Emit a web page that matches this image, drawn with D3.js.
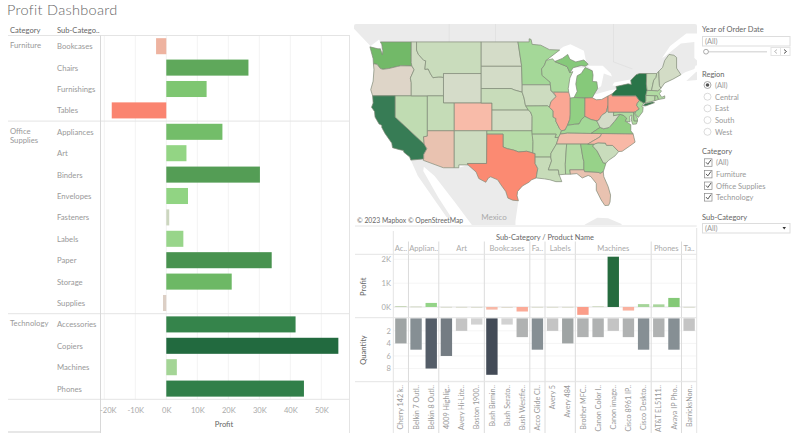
<!DOCTYPE html>
<html>
<head>
<meta charset="utf-8">
<script src="https://cdn.jsdelivr.net/npm/d3@7"></script>
<style>
html,body{margin:0;padding:0;background:#fff;overflow:hidden}
svg{display:block}
text{font-family:Lato,"Open Sans",sans-serif}
</style>
</head>
<body>
<div id="chart"></div>
<script>
// left bars: profit by sub-category
const subCats = ["Bookcases","Chairs","Furnishings","Tables","Appliances","Art","Binders","Envelopes","Fasteners","Labels","Paper","Storage","Supplies","Accessories","Copiers","Machines","Phones"]
const subProfit = [-3300,26500,13000,-17600,18100,6500,30200,7000,950,5500,34000,21100,-1070,41700,55500,3400,44400]
const groupNames = [["Furniture"],["Office","Supplies"],["Technology"]]
const groupSize = [4,9,4]
const xTicks = [-20000,-10000,0,10000,20000,30000,40000,50000]

// bottom chart: products
const facetNames = ["Ac..","Applian..","Art","Bookcases","Fa..","Labels","Machines","Phones","Ta.."]
const facetSize = [1,2,3,3,1,2,5,2,1]
const products = ["Cherry 142 k..","Belkin 7 Outl..","Belkin 8 Outl..","4009 Highlig..","Avery Hi-Lite..","Boston 1900..","Bush Birmin..","Bush Serato..","Bush Westfie..","Acco Glide Cl..","Avery 5","Avery 484","Brother MFC..","Canon Color I..","Canon image..","Cisco 8961 IP..","Cisco Deskto..","AT&T EL5111..","Avaya IP Pho..","BarricksNon.."]
const prodProfit = [40,20,170,6,4,3,-110,-6,-190,5,5,5,-330,30,2110,-150,120,110,380,6]
const prodQty = [4,5,8,6,2,1,9,1,3,5,2,4,3,3,2,3,5,3,5,2]

// map: profit per state (estimated from the colours)
const stateNames = ["WA","OR","CA","NV","ID","MT","WY","UT","CO","AZ","NM","ND","SD","NE","KS","OK","TX","MN","IA","MO","AR","LA","WI","IL","MI","MI2","IN","OH","KY","TN","MS","AL","GA","FL","SC","NC","VA","WV","MD","DE","PA","NJ","NY","NY2","CT","RI","MA","VT","NH","ME"]
const stateProfit = [33000,-1200,62000,3300,800,1800,100,2500,-6500,-3400,1200,200,400,2000,800,4900,-25700,10800,1200,6400,4000,2200,8400,-12600,24000,24000,18400,-17000,11200,-5300,3200,5800,16200,-3400,1800,-7500,18600,200,7000,10000,-15500,9800,74000,74000,3500,7300,6800,2200,1700,450]
const stateOutlines = [
 [[-124.7,48.4],[-123.2,48.15],[-122.75,48.15],[-122.4,47.4],[-122.3,47.9],[-122.5,48.7],[-122.75,49],[-117.03,49],[-117.04,46.42],[-116.92,45.99],[-118.98,46],[-119.6,45.92],[-121.2,45.65],[-122.3,45.55],[-122.75,45.65],[-123.4,46.2],[-124.05,46.27],[-124.1,46.9]],
 [[-124.05,46.27],[-123.4,46.2],[-122.75,45.65],[-122.3,45.55],[-121.2,45.65],[-119.6,45.92],[-118.98,46],[-116.92,45.99],[-116.5,45.5],[-117.2,44.4],[-117.03,43.8],[-117.03,42],[-124.2,42],[-124.55,42.84],[-124.1,44],[-123.95,45.5]],
 [[-124.2,42],[-120,42],[-120,39],[-114.63,35],[-114.13,34.3],[-114.72,33.4],[-114.72,32.72],[-117.12,32.53],[-117.3,33],[-118.4,33.75],[-118.5,34.03],[-119.2,34.15],[-120.5,34.45],[-120.65,35.15],[-121.9,36.6],[-122.5,37.5],[-122.5,37.8],[-123,38],[-123.75,39],[-123.85,39.8],[-124.4,40.4],[-124.1,41]],
 [[-120,42],[-114.04,42],[-114.04,36.2],[-114.75,36.1],[-114.63,35],[-120,39]],
 [[-117.03,49],[-116.05,49],[-116.05,48],[-115.7,47.45],[-114.7,46.7],[-114.35,46.65],[-114.5,45.55],[-113.9,45.6],[-113.45,44.95],[-113,44.45],[-112,44.55],[-111.5,44.55],[-111.05,44.48],[-111.05,42],[-114.04,42],[-117.03,42],[-117.03,43.8],[-117.2,44.4],[-116.5,45.5],[-116.92,45.99],[-117.04,46.42]],
 [[-116.05,49],[-104.05,49],[-104.05,45],[-111.05,45],[-111.05,44.48],[-111.5,44.55],[-112,44.55],[-113,44.45],[-113.45,44.95],[-113.9,45.6],[-114.5,45.55],[-114.35,46.65],[-114.7,46.7],[-115.7,47.45],[-116.05,48]],
 [[-111.05,45],[-104.05,45],[-104.05,41],[-111.05,41]],
 [[-114.04,42],[-111.05,42],[-111.05,41],[-109.05,41],[-109.05,37],[-114.04,37]],
 [[-109.05,41],[-102.05,41],[-102.05,37],[-109.05,37]],
 [[-114.04,37],[-109.05,37],[-109.05,31.33],[-111.07,31.33],[-114.8,32.5],[-114.72,32.72],[-114.72,33.4],[-114.13,34.3],[-114.63,35],[-114.75,36.1],[-114.04,36.2]],
 [[-109.05,37],[-103,37],[-103.05,32],[-106.6,32],[-106.5,31.78],[-108.2,31.78],[-108.2,31.33],[-109.05,31.33]],
 [[-104.05,49],[-97.23,49],[-96.55,46],[-96.56,45.94],[-104.05,45.94]],
 [[-104.05,45.94],[-96.56,45.94],[-96.45,43.5],[-96.45,42.5],[-97.9,42.8],[-98.5,43],[-104.05,43]],
 [[-104.05,43],[-98.5,43],[-97.9,42.8],[-96.45,42.5],[-96.1,41.7],[-95.85,40.7],[-95.31,40],[-102.05,40],[-102.05,41],[-104.05,41]],
 [[-102.05,40],[-95.31,40],[-94.9,39.75],[-94.6,39.1],[-94.62,37],[-102.05,37]],
 [[-103,37],[-94.62,37],[-94.43,35.4],[-94.48,33.64],[-95.6,33.9],[-97.1,33.8],[-98.1,34.1],[-99.2,34.3],[-100,34.56],[-100,36.5],[-103,36.5]],
 [[-103,36.5],[-100,36.5],[-100,34.56],[-99.2,34.3],[-98.1,34.1],[-97.1,33.8],[-95.6,33.9],[-94.48,33.64],[-94.04,33.55],[-94.04,32],[-93.55,31.2],[-93.85,29.7],[-94.7,29.4],[-95.2,29],[-96.4,28.4],[-97.3,27.5],[-97.4,26.8],[-97.15,25.96],[-98.2,26.05],[-99.1,26.4],[-99.5,27.5],[-100.4,28.6],[-101,29.4],[-102.3,29.88],[-102.7,29.7],[-103.2,29],[-104.5,29.6],[-105,30.65],[-106.5,31.78],[-106.6,32],[-103.05,32]],
 [[-97.23,49],[-95.15,49],[-95.15,49.38],[-94.8,49.3],[-94.6,48.7],[-93,48.6],[-91.4,48.05],[-89.5,48],[-92,46.7],[-92.3,46.1],[-92.85,45.6],[-92.75,44.75],[-91.25,43.85],[-91.22,43.5],[-96.45,43.5],[-96.56,45.94],[-96.55,46]],
 [[-96.45,43.5],[-91.22,43.5],[-91.1,42.7],[-90.15,41.9],[-91.1,41.2],[-91.4,40.4],[-91.73,40.61],[-95.77,40.58],[-95.85,40.7],[-96.1,41.7],[-96.45,42.5]],
 [[-95.77,40.58],[-91.73,40.61],[-91.4,40.4],[-90.7,39.9],[-90.7,39],[-90.2,38.8],[-90.2,38.4],[-89.5,37.3],[-89.15,37],[-89.4,36.5],[-89.7,36],[-90.37,36],[-90.15,36.5],[-94.62,36.5],[-94.62,37],[-94.6,39.1],[-94.9,39.75],[-95.31,40]],
 [[-94.62,36.5],[-90.15,36.5],[-90.37,36],[-89.7,36],[-90.1,35],[-91.1,33.6],[-91.15,33],[-94.04,33],[-94.04,33.55],[-94.48,33.64],[-94.43,35.4]],
 [[-94.04,33],[-91.15,33],[-91,32.4],[-91.6,31],[-89.75,31],[-89.6,30.2],[-89.4,29.8],[-89.1,29.1],[-90.2,29.1],[-91.3,29.4],[-92.3,29.55],[-93.85,29.7],[-93.55,31.2],[-94.04,32]],
 [[-92,46.7],[-90.8,46.9],[-90.4,46.55],[-88.1,45.9],[-87.6,45.1],[-87.05,45.25],[-87.6,44.4],[-87.9,43],[-87.8,42.49],[-90.64,42.5],[-91.1,42.7],[-91.22,43.5],[-91.25,43.85],[-92.75,44.75],[-92.85,45.6],[-92.3,46.1]],
 [[-90.64,42.5],[-87.8,42.49],[-87.53,41.7],[-87.53,39.35],[-87.6,38.7],[-88.05,37.8],[-88.5,37.1],[-89.15,37],[-89.5,37.3],[-90.2,38.4],[-90.2,38.8],[-90.7,39],[-90.7,39.9],[-91.4,40.4],[-91.1,41.2],[-90.15,41.9]],
 [[-86.82,41.76],[-84.8,41.7],[-83.45,41.73],[-83.1,42.2],[-82.45,43],[-82.6,43.9],[-83.4,43.95],[-83.3,44.8],[-83.45,45.35],[-84.75,45.78],[-85.5,45],[-86.25,44.7],[-86.5,43.6],[-86.25,42.6]],
 [[-90.4,46.55],[-88.1,45.9],[-87.6,45.1],[-87,45.75],[-85.5,46.05],[-84.75,45.95],[-84.2,46.2],[-85,46.75],[-86.5,46.5],[-87.6,46.85],[-88,47.45],[-89,46.95]],
 [[-87.53,41.7],[-86.82,41.76],[-84.8,41.7],[-84.82,39.1],[-85.4,38.7],[-85.9,38],[-86.8,37.95],[-88.05,37.8],[-87.6,38.7],[-87.53,39.35]],
 [[-84.8,41.7],[-83.45,41.73],[-82.7,41.45],[-81.7,41.5],[-80.52,41.98],[-80.52,40.64],[-80.85,39.7],[-81.7,39.25],[-82.2,38.6],[-82.6,38.45],[-83.7,38.65],[-84.82,39.1]],
 [[-89.4,36.5],[-89.15,37],[-88.5,37.1],[-88.05,37.8],[-86.8,37.95],[-85.9,38],[-85.4,38.7],[-84.82,39.1],[-83.7,38.65],[-82.6,38.45],[-82,37.5],[-83.68,36.6],[-88.07,36.65]],
 [[-90.1,35],[-89.7,36],[-89.4,36.5],[-88.07,36.65],[-83.68,36.6],[-81.68,36.59],[-82,36.1],[-84.3,35]],
 [[-90.1,35],[-88.2,35],[-88.45,31.9],[-88.4,30.3],[-89.6,30.2],[-89.75,31],[-91.6,31],[-91,32.4],[-91.15,33],[-91.1,33.6]],
 [[-88.2,35],[-85.6,35],[-85.18,32.87],[-85,32.3],[-85,31],[-87.6,31],[-87.5,30.3],[-88.4,30.3],[-88.45,31.9]],
 [[-85.6,35],[-84.3,35],[-83.1,35],[-83.35,34.7],[-82.55,33.95],[-81.4,32.1],[-80.9,32.05],[-81.4,30.7],[-82,30.4],[-82.2,30.57],[-84.87,30.7],[-85,31],[-85,32.3],[-85.18,32.87]],
 [[-87.6,31],[-85,31],[-84.87,30.7],[-82.2,30.57],[-82,30.4],[-81.4,30.7],[-81.3,29.9],[-80.5,28.3],[-80.05,26.9],[-80.15,25.75],[-80.4,25.2],[-81.1,25.15],[-81.8,26.1],[-82.7,27.7],[-82.7,28.8],[-83.7,29.9],[-84.2,30.1],[-85.3,29.7],[-86.3,30.4],[-87.5,30.3]],
 [[-83.35,34.7],[-83.1,35],[-82.4,35.2],[-81,35.15],[-80.8,34.82],[-79.67,34.8],[-78.55,33.86],[-79.2,33.2],[-80.4,32.5],[-80.9,32.05],[-81.4,32.1],[-82.55,33.95]],
 [[-84.3,35],[-82,36.1],[-81.68,36.59],[-75.87,36.55],[-75.5,35.3],[-76.5,34.7],[-77.9,33.9],[-78.55,33.86],[-79.67,34.8],[-80.8,34.82],[-81,35.15],[-82.4,35.2],[-83.1,35]],
 [[-83.68,36.6],[-82,37.5],[-81.3,37.3],[-80.3,37.5],[-79.3,38.4],[-78.35,39.4],[-77.75,39.3],[-77.05,38.85],[-77.3,38.4],[-76.3,37.9],[-76.3,37],[-75.87,36.55],[-81.68,36.59]],
 [[-82.6,38.45],[-82.2,38.6],[-81.7,39.25],[-80.85,39.7],[-80.52,40.64],[-80.52,39.72],[-79.48,39.72],[-79.48,39.2],[-78.35,39.4],[-79.3,38.4],[-80.3,37.5],[-81.3,37.3],[-82,37.5]],
 [[-79.48,39.72],[-75.79,39.72],[-75.7,38.46],[-75.05,38.45],[-75.25,38],[-75.95,37.95],[-76.2,38.6],[-76.1,39.3],[-76.5,39.1],[-76.45,38.3],[-77.3,38.4],[-77.05,38.85],[-77.75,39.3],[-78.35,39.4],[-79.48,39.2]],
 [[-75.79,39.72],[-75.4,39.8],[-75.55,39.45],[-75.05,38.8],[-75.05,38.45],[-75.7,38.46]],
 [[-80.52,41.98],[-79.76,42.27],[-79.76,42],[-75.35,42],[-74.7,41.36],[-75.1,40.95],[-75.2,40.65],[-74.72,40.15],[-75.4,39.8],[-75.79,39.72],[-80.52,39.72],[-80.52,40.64]],
 [[-74.7,41.36],[-73.9,41],[-74.25,40.5],[-74,40.4],[-74.1,39.75],[-74.9,38.95],[-75.5,39.5],[-75.4,39.8],[-74.72,40.15],[-75.2,40.65],[-75.1,40.95]],
 [[-79.76,42.27],[-78.9,42.9],[-79.05,43.27],[-76.8,43.63],[-76.2,43.55],[-76.3,44.1],[-75.3,44.85],[-74.7,45],[-73.35,45],[-73.4,43.6],[-73.27,42.75],[-73.5,42.05],[-73.5,41.3],[-73.65,41],[-73.9,41],[-74.7,41.36],[-75.35,42],[-79.76,42]],
 [[-74,40.6],[-73.7,40.9],[-72.3,41.15],[-71.9,41.05],[-73.5,40.6]],
 [[-73.5,42.05],[-71.8,42.02],[-71.85,41.32],[-73.65,41],[-73.5,41.3]],
 [[-71.8,42.02],[-71.38,42.02],[-71.15,41.5],[-71.85,41.32]],
 [[-73.5,42.05],[-73.27,42.75],[-71.3,42.7],[-70.9,42.88],[-70.6,42.65],[-71,42.3],[-70.55,41.8],[-70,42],[-70,41.65],[-71.15,41.5],[-71.38,42.02]],
 [[-73.35,45],[-71.5,45],[-71.6,44.5],[-72.05,44.1],[-72.45,42.73],[-73.27,42.75],[-73.4,43.6]],
 [[-71.5,45],[-71.1,45.3],[-70.98,43.4],[-70.7,43.05],[-70.9,42.88],[-71.3,42.7],[-72.45,42.73],[-72.05,44.1],[-71.6,44.5]],
 [[-71.1,45.3],[-70.4,45.8],[-70,46.7],[-69.2,47.45],[-68.3,47.35],[-67.8,47.07],[-67.8,45.7],[-67,44.85],[-68.5,44.25],[-70,43.75],[-70.7,43.05],[-70.98,43.4]]
]
// basemap land and water behind the states
const landShapes = [
 [[-128,52],[-60,52],[-60,47],[-64.3,46],[-64.5,45.6],[-66.1,45.2],[-67,44.85],[-67.8,45.5],[-70,45],[-74,44.5],[-76.3,43.5],[-79,42.5],[-83,41.5],[-84,45],[-90,46.5],[-95,48],[-122,48],[-124.6,48.5],[-128,50.8]],
 [[-66,44],[-64.2,45.2],[-63,45.5],[-63,44.2]],
 [[-117.12,32.53],[-114.72,32.72],[-114.8,32.5],[-111.07,31.33],[-108.2,31.33],[-106.5,31.78],[-105,30.65],[-104.5,29.6],[-103.2,29],[-102.3,29.88],[-101,29.4],[-99.5,27.5],[-99.1,26.4],[-97.15,25.96],[-97.7,22.5],[-97.7,20],[-106,20],[-105.5,21.5],[-109,25.8],[-112.7,30],[-114.7,31.5],[-114.8,30.8],[-112,26.5],[-109.5,23],[-110.5,23.2],[-115.8,30]],
 [[-84.9,21.9],[-82.5,23.1],[-80.5,23],[-78,22],[-78,21],[-82,21],[-84,21.7]]
]
const lakeShapes = [
 [[-92,46.8],[-88.8,48.4],[-87.5,48.7],[-85,47.9],[-84.6,46.6],[-86,46.4],[-89,46.6]],
 [[-87.8,42.3],[-86.8,41.6],[-86.2,42.6],[-86.2,44.7],[-84.8,45.75],[-87,45.8],[-87.9,44]],
 [[-84.5,46],[-81.5,46],[-80,45],[-79.8,44.6],[-81.3,45],[-81.8,43.3],[-82.5,43],[-83.5,44],[-83.3,45.4]],
 [[-83.4,41.65],[-83,42.2],[-80,42.8],[-78.9,42.9],[-79.5,42.2],[-81.7,41.4]],
 [[-79.7,43.4],[-79.4,43.8],[-76.4,44.2],[-76.2,43.5],[-77,43.2]],
 [[-63,50],[-66,50],[-69,48.5],[-70.5,47],[-70,47.2],[-67,48.8],[-64.5,49],[-64.5,47],[-63,46]],
 [[-124.7,48.45],[-123,49.3],[-122.5,48.5],[-122.75,48.1]]
]
const boundaryLines = [
 [[-110,51.5],[-110,49]],
 [[-101.4,51.5],[-101.4,49]],
 [[-79.5,51.5],[-79.5,46.5],[-76,45.6]]
]

// filter panel text
const filterTitles = ["Year of Order Date","Region","Category","Sub-Category"]
const regionNames = ["(All)","Central","East","South","West"]
const categoryNames = ["(All)","Furniture","Office Supplies","Technology"]

const ancho = 800, alto = 433
const gris = "#999", grisClaro = "#e4e4e4", grisTexto = "#aaa", oscuro = "#666"

const svg = d3.select("#chart").append("svg").attr("width", ancho).attr("height", alto)

const profitColor = d3.scaleLinear()
  .domain([-17600,-3300,-1070,950,3400,6500,13000,21000,26500,34000,42000,55500])
  .range(["#fa8470","#eeb3a0","#dccfc5","#ccd6bf","#a4d596","#93d584","#7ec671","#6db865","#5fa85b","#48924f","#34834b","#226a3f"])
const stateColor = d3.scaleLinear()
  .domain([-25700,-16000,-6500,-3400,-1200,100,2000,5000,10000,18000,24000,33000,62000,74000])
  .range(["#fb8a72","#fb9c88","#f8bba9","#e9c2b0","#ded5c8","#d5dcc9","#c8dcba","#b6dca7","#a6d99a","#92d084","#86c97a","#72b968","#377c55","#2a7549"])
const prodColor = d3.scaleLinear()
  .domain([-330,-190,-60,0,120,170,380,2110])
  .range(["#fb9d89","#fbab98","#f4c0b0","#d8d8c8","#a5d599","#94d488","#84c977","#256b3e"])
const qtyColor = d3.scaleLinear()
  .domain([1,2,3,4,5,6,8,9])
  .range(["#d2d2d2","#c4c4c4","#b0b2b2","#9fa4a4","#868f94","#747c83","#545d68","#434b57"])

svg.append("text").attr("x", 7).attr("y", 15).attr("font-size", 14.5).attr("font-weight", 300).attr("fill", oscuro)
  .attr("letter-spacing", 0.3).text("Profit Dashboard")

// ---- left chart
const x = d3.scaleLinear().domain([-21226,59258]).range([100.5,350])
const y = d3.scaleBand().domain(subCats).range([35.5,399.3]).paddingInner(0.25).paddingOuter(0.125)
const izq = svg.append("g").attr("id","izquierda")

izq.selectAll("line.grid").data(xTicks).enter().append("line")
  .attr("x1", d=>x(d)).attr("x2", d=>x(d)).attr("y1", 36).attr("y2", 399.5)
  .attr("stroke", "#f3f3f3")
izq.selectAll("rect").data(subCats).enter().append("rect")
  .attr("x", (d,i)=>Math.min(x(0), x(subProfit[i])))
  .attr("width", (d,i)=>Math.abs(x(subProfit[i])-x(0)))
  .attr("y", d=>y(d)).attr("height", y.bandwidth())
  .attr("fill", (d,i)=>profitColor(subProfit[i]))
izq.selectAll("text.sub").data(subCats).enter().append("text")
  .attr("x", 57).attr("y", d=>y(d)+y.bandwidth()/2+3).attr("font-size", 7.7)
  .attr("fill", gris).text(d=>d)

// group rows and separators
let inicio = 0
groupNames.forEach((lineas,i)=>{
  const yTop = y(subCats[inicio]) - y.step()*y.paddingOuter()
  lineas.forEach((t,j)=>{
    izq.append("text").attr("x", 10).attr("y", yTop+12.5+j*9.5).attr("font-size", 7.7)
      .attr("fill", gris).text(t)
  })
  inicio += groupSize[i]
  const yBot = yTop + groupSize[i]*y.step()
  izq.append("line").attr("x1", 8).attr("x2", 350).attr("y1", yBot).attr("y2", yBot).attr("stroke", grisClaro)
})
izq.append("line").attr("x1", 8).attr("x2", 350).attr("y1", 35.5).attr("y2", 35.5).attr("stroke", grisClaro)
izq.append("line").attr("x1", 100.5).attr("x2", 100.5).attr("y1", 35.5).attr("y2", 433).attr("stroke", "#d8d8d8")
izq.append("line").attr("x1", 349.5).attr("x2", 349.5).attr("y1", 35.5).attr("y2", 433).attr("stroke", grisClaro)
izq.append("line").attr("x1", 8).attr("x2", 100).attr("y1", 432).attr("y2", 432).attr("stroke", "#cfcfcf")
izq.append("text").attr("x", 10).attr("y", 33).attr("font-size", 7.6).attr("fill", oscuro).text("Category")
izq.append("text").attr("x", 57).attr("y", 33).attr("font-size", 7.6).attr("fill", oscuro).text("Sub-Catego..")

const ejeX = d3.axisBottom(x).tickValues(xTicks).tickSize(0).tickFormat(d=>(d/1000)+"K")
const grupoX = izq.append("g").attr("transform","translate(0,399.5)").call(ejeX)
grupoX.select(".domain").remove()
grupoX.selectAll("text").attr("font-size", 7.6).attr("fill", grisTexto).attr("y", 8)
  .attr("dx", d=>d===-20000?3.5:0)
izq.append("text").attr("x", 224).attr("y", 427).attr("text-anchor","middle")
  .attr("font-size", 7.6).attr("fill", oscuro).text("Profit")

// ---- map
const mapa = svg.append("g").attr("id","mapa")
svg.append("clipPath").attr("id","clipMapa").append("rect")
  .attr("x", 354).attr("y", 24).attr("width", 343).attr("height", 201).attr("rx", 2)
const projection = d3.geoMercator().scale(308.8).translate([1042,345.7])
const linea = d3.line()
const forma = anillo => linea(anillo.map(projection)) + "Z"
const capa = mapa.append("g").attr("clip-path","url(#clipMapa)")
capa.append("rect").attr("x", 354).attr("y", 24).attr("width", 343).attr("height", 201).attr("fill", "#fff")
capa.selectAll("path.land").data(landShapes).enter().append("path").attr("class","land")
  .attr("d", forma).attr("fill", "#ebebeb")
capa.selectAll("path.border").data(boundaryLines).enter().append("path").attr("class","border")
  .attr("d", d=>linea(d.map(projection))).attr("fill","none").attr("stroke","#dcdcdc").attr("stroke-width",0.6)
capa.selectAll("path.lake").data(lakeShapes).enter().append("path").attr("class","lake")
  .attr("d", forma).attr("fill", "#fff")
capa.selectAll("path.state").data(stateOutlines).enter().append("path").attr("class","state")
  .attr("d", forma)
  .attr("fill", (d,i)=>stateColor(stateProfit[i]))
  .attr("stroke", "#7f8a77").attr("stroke-width", 0.7).attr("stroke-linejoin","round")
capa.append("text").attr("x", 494).attr("y", 219.5).attr("text-anchor","middle")
  .attr("font-size", 8).attr("fill", "#aaa").text("Mexico")
capa.append("text").attr("x", 357).attr("y", 223).attr("font-size", 6.8).attr("fill", "#666")
  .text("© 2023 Mapbox  © OpenStreetMap")

// ---- bottom chart
const xP = d3.scaleBand().domain(products).range([393.3,696.7]).paddingInner(0.25).paddingOuter(0.125)
const yProfit = d3.scaleLinear().domain([-450,2110]).range([317.7,256.7])
const yQty = d3.scaleLinear().domain([0,10.1]).range([318.3,381.7])
const abajo = svg.append("g").attr("id","abajo")

;[1000,2000].forEach(v=>{
  abajo.append("line").attr("x1",393.3).attr("x2",696.7).attr("y1",yProfit(v)).attr("y2",yProfit(v)).attr("stroke","#f5f5f5")
})
;[2,4,6,8,10].forEach(v=>{
  abajo.append("line").attr("x1",393.3).attr("x2",696.7).attr("y1",yQty(v)).attr("y2",yQty(v)).attr("stroke","#f5f5f5")
})
abajo.append("line").attr("x1",393.3).attr("x2",696.7).attr("y1",yProfit(0)).attr("y2",yProfit(0)).attr("stroke",grisClaro)

abajo.selectAll("rect.profit").data(products).enter().append("rect").attr("class","profit")
  .attr("x", d=>xP(d)).attr("width", xP.bandwidth())
  .attr("y", (d,i)=>Math.min(yProfit(0), yProfit(prodProfit[i])))
  .attr("height", (d,i)=>Math.max(0.8, Math.abs(yProfit(prodProfit[i])-yProfit(0))))
  .attr("fill", (d,i)=>prodColor(prodProfit[i]))
abajo.selectAll("rect.qty").data(products).enter().append("rect").attr("class","qty")
  .attr("x", d=>xP(d)).attr("width", xP.bandwidth())
  .attr("y", yQty(0)).attr("height", (d,i)=>yQty(prodQty[i])-yQty(0))
  .attr("fill", (d,i)=>qtyColor(prodQty[i]))

// facets
abajo.append("line").attr("x1",393.3).attr("x2",393.3).attr("y1",231).attr("y2",433).attr("stroke",grisClaro)
abajo.append("line").attr("x1",696.7).attr("x2",696.7).attr("y1",228).attr("y2",433).attr("stroke",grisClaro)
let pos = 0
const paso = xP.step()
facetNames.forEach((t,i)=>{
  const x0 = 393.3 + pos*paso
  const x1 = x0 + facetSize[i]*paso
  abajo.append("text").attr("x",(x0+x1)/2).attr("y",251).attr("text-anchor","middle")
    .attr("font-size",7.6).attr("fill",grisTexto).text(t)
  if(i<facetNames.length-1) abajo.append("line").attr("x1",x1).attr("x2",x1).attr("y1",241.5).attr("y2",433).attr("stroke","#dcdcdc")
  pos += facetSize[i]
})
;[226,254.3,317.7,381.7].forEach(v=>{
  abajo.append("line").attr("x1",355).attr("x2",696.7).attr("y1",v).attr("y2",v).attr("stroke",grisClaro)
})
abajo.append("text").attr("x",545).attr("y",239.8).attr("text-anchor","middle")
  .attr("font-size",7.4).attr("fill",oscuro).text("Sub-Category / Product Name")

const ejeProfit = d3.axisLeft(yProfit).tickValues([0,1000,2000]).tickSize(0).tickFormat(d=>(d/1000)+"K")
const ejeQty = d3.axisLeft(yQty).tickValues([2,4,6,8]).tickSize(0)
;[ejeProfit,ejeQty].forEach(eje=>{
  const g = abajo.append("g").attr("transform","translate(391,0)").call(eje)
  g.select(".domain").remove()
  g.selectAll("text").attr("font-size",7.6).attr("fill",grisTexto).attr("x",0)
})
;[["Profit",286.7],["Quantity",350]].forEach(d=>{
  abajo.append("text").attr("transform",`translate(366,${d[1]}) rotate(-90)`).attr("text-anchor","middle")
    .attr("font-size",7.6).attr("fill",oscuro).text(d[0])
})
abajo.append("g")
  .selectAll("text").data(products).enter().append("text")
  .attr("transform", d=>`translate(${xP(d)+xP.bandwidth()/2+2.6},385) rotate(-90)`)
  .attr("text-anchor","end").attr("font-size",7.2).attr("fill",gris).text(d=>d)

// ---- filters
const filtros = svg.append("g").attr("id","filtros")
const titulo = (t,yy)=>filtros.append("text").attr("x",702).attr("y",yy).attr("font-size",7.5).attr("fill",oscuro).text(t)
const opcion = (t,xx,yy)=>filtros.append("text").attr("x",xx).attr("y",yy).attr("font-size",7.5).attr("fill",gris).text(t)
titulo(filterTitles[0],32)
filtros.append("rect").attr("x",702.5).attr("y",36.5).attr("width",87.5).attr("height",9.5).attr("fill","#fff").attr("stroke","#ddd")
opcion("(All)",705,44)
filtros.append("line").attr("x1",706).attr("x2",767).attr("y1",51.7).attr("y2",51.7).attr("stroke","#ddd").attr("stroke-width",1.5)
filtros.append("circle").attr("cx",706).attr("cy",51.7).attr("r",2.4).attr("fill","#fff").attr("stroke","#888").attr("stroke-width",0.7)
filtros.append("rect").attr("x",771).attr("y",47.5).attr("width",19).attr("height",8).attr("fill","#fff").attr("stroke","#e4e4e4")
filtros.append("line").attr("x1",780.5).attr("x2",780.5).attr("y1",47.5).attr("y2",55.5).attr("stroke","#e4e4e4")
filtros.append("path").attr("d","M777 49.5L774.5 51.5L777 53.5").attr("fill","none").attr("stroke","#bbb")
filtros.append("path").attr("d","M784 49.5L786.5 51.5L784 53.5").attr("fill","none").attr("stroke","#555")

titulo(filterTitles[1],76.5)
regionNames.forEach((t,i)=>{
  const yy = 85 + i*11.7
  filtros.append("circle").attr("cx",707.5).attr("cy",yy).attr("r",3.5).attr("fill","#fff").attr("stroke",i===0?"#888":"#ccc").attr("stroke-width",0.7)
  if(i===0) filtros.append("circle").attr("cx",707.5).attr("cy",yy).attr("r",1.8).attr("fill","#555")
  opcion(t,715,yy+3)
})

titulo(filterTitles[2],153.5)
categoryNames.forEach((t,i)=>{
  const yy = 162.3 + i*11.6
  filtros.append("rect").attr("x",704.5).attr("y",yy-3.5).attr("width",7.5).attr("height",7.5).attr("fill","#fff").attr("stroke","#888").attr("stroke-width",0.7)
  filtros.append("path").attr("d",`M706 ${yy}L707.8 ${yy+2}L711 ${yy-2.5}`).attr("fill","none").attr("stroke","#444").attr("stroke-width",0.9)
  opcion(t,716,yy+3)
})

titulo(filterTitles[3],219.5)
filtros.append("rect").attr("x",702.5).attr("y",223.5).attr("width",87.5).attr("height",9.5).attr("fill","#fff").attr("stroke","#ddd")
opcion("(All)",705,231)
filtros.append("path").attr("d","M782.5 227L786 227L784.2 229.5Z").attr("fill","#333")
</script>
</body>
</html>
